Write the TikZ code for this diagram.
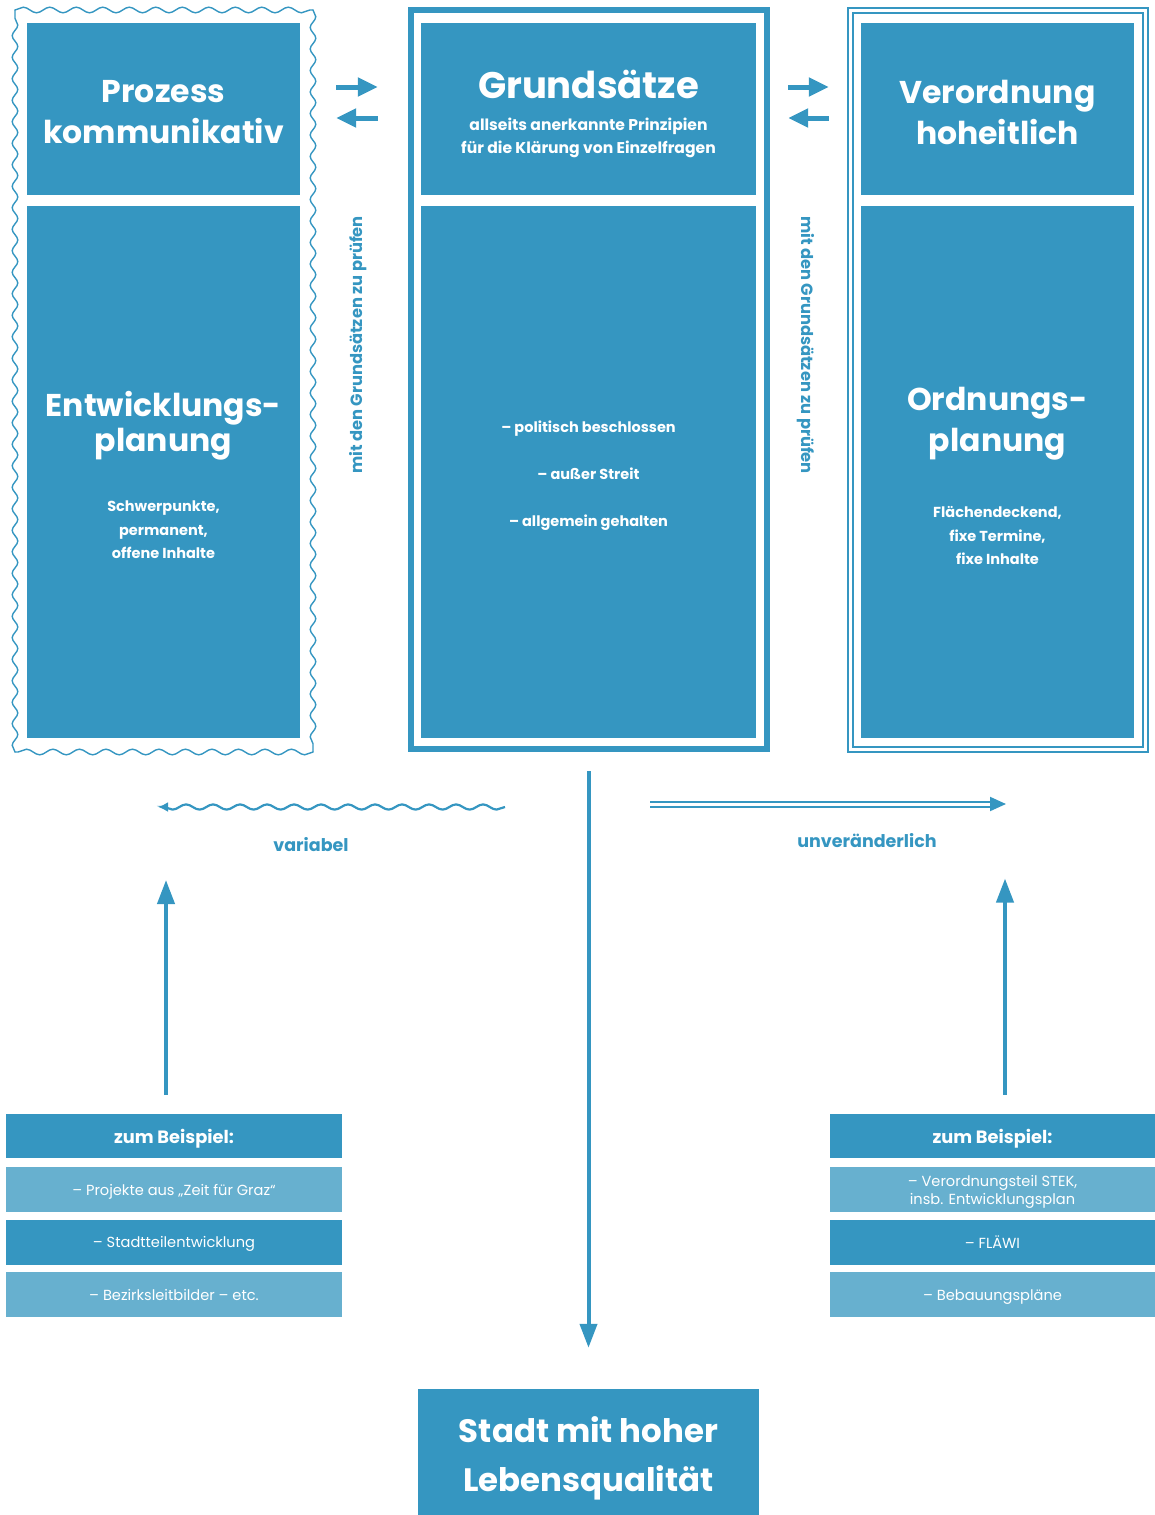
\documentclass[tikz,border=0pt]{standalone}
\usepackage{fontspec}
\setmainfont{Poppins}
\usetikzlibrary{
    arrows.meta,
    decorations.pathmorphing,
    positioning
}
\definecolor{planblue}{RGB}{53,150,193}
\definecolor{planlight}{RGB}{103,176,207}
\tikzset{
    colbox/.style={
        rectangle,
        fill=planblue,
        draw=none,
        inner sep=0pt,
        text=white,
        align=center
    },
    lightrow/.style={
        colbox,
        fill=planlight
    },
    wavyside/.style={
        draw=planblue,
        line width=1.4pt,
        line cap=round,
        decorate,
        decoration={snake, amplitude=2.8pt, segment length=26.5pt}
    },
    thickframe/.style={
        draw=planblue,
        line width=6pt
    },
    doubleframe/.style={
        draw=planblue,
        double=white,
        double distance=3pt,
        line width=2pt
    },
    bigtitle/.style={
        text=white,
        align=center,
        font=\fontsize{31.5}{41}\selectfont\bfseries
    },
    subtext/.style={
        text=white,
        align=center,
        font=\fontsize{14.5}{23.5}\selectfont\bfseries
    },
    sidenote/.style={
        text=planblue,
        font=\fontsize{16.3}{18}\selectfont\bfseries
    },
    tendlabel/.style={
        text=planblue,
        font=\fontsize{17.5}{21}\selectfont\bfseries
    },
    headtext/.style={
        font=\fontsize{17.8}{21}\selectfont\bfseries,
        text depth=0pt
    },
    rowtext/.style={
        font=\fontsize{14.6}{18.5}\selectfont,
        text depth=0pt
    },
    exchange/.style={
        draw=planblue,
        line width=5pt,
        -{Triangle[length=20pt, width=18pt]}
    },
    mainflow/.style={
        draw=planblue,
        line width=4pt,
        -{Triangle[length=24pt, width=17pt]}
    },
    wavyarrow/.style={
        draw=planblue,
        line width=2.2pt,
        -{Latex[length=10pt, width=10pt]},
        decorate,
        decoration={snake, amplitude=2.6pt, segment length=27pt, post length=6pt}
    },
    fixedarrow/.style={
        draw=planblue,
        double=white,
        double distance=3pt,
        line width=2pt,
        -{Triangle[length=16pt, width=14pt]}
    }
}

\begin{document}
\begin{tikzpicture}[x=1pt, y=-1pt]
    \useasboundingbox (0,0) rectangle (1155,1515);

    % Outer frames
    \node[outer sep=0pt, minimum width=298pt, minimum height=742pt] (lframe) at (164,381) {};
    \draw[wavyside] (lframe.north west) -- (lframe.north east);
    \draw[wavyside, decoration={segment length=21.5pt}] (lframe.north east) -- (lframe.south east);
    \draw[wavyside] (lframe.south east) -- (lframe.south west);
    \draw[wavyside, decoration={segment length=21.5pt}] (lframe.south west) -- (lframe.north west);
    \node[thickframe, minimum width=356pt, minimum height=739pt] (mframe) at (588.5,379.5) {};
    \node[doubleframe, minimum width=295pt, minimum height=739pt] (rframe) at (997.5,380) {};

    % Column boxes
    \node[colbox, minimum width=273pt, minimum height=172pt] (ltop) at (163.5,109) {};
    \node[colbox, minimum width=273pt, minimum height=532pt] (lbot) at (163.5,472) {};
    \node[colbox, minimum width=335pt, minimum height=172pt] (mtop) at (588.5,109) {};
    \node[colbox, minimum width=335pt, minimum height=532pt] (mbot) at (588.5,472) {};
    \node[colbox, minimum width=273pt, minimum height=172pt] (rtop) at (997.5,109) {};
    \node[colbox, minimum width=273pt, minimum height=532pt] (rbot) at (997.5,472) {};

    % Texts in the columns
    \node[bigtitle] (ltoptext) at (163.5,112) {Prozess\\kommunikativ};
    \node[bigtitle] (lbottitle) at (163.5,426) {Entwicklungs-\\[-6pt]planung};
    \node[subtext] (lbotnote) at (163.5,530) {Schwerpunkte,\\permanent,\\offene Inhalte};

    \node[bigtitle, font=\fontsize{37}{44}\selectfont\bfseries] (mtitle) at (588.5,84) {Grundsätze};
    \node[subtext, font=\fontsize{15.6}{23}\selectfont\bfseries] (mnote) at (588.5,138) {allseits anerkannte Prinzipien\\für die Klärung von Einzelfragen};
    \node[subtext, font=\fontsize{14.5}{47}\selectfont\bfseries] (mbotnote) at (588.5,476) {– politisch beschlossen\\– außer Streit\\– allgemein gehalten};

    \node[bigtitle] (rtoptext) at (997.5,112) {Verordnung\\hoheitlich};
    \node[bigtitle] (rbottitle) at (997.5,424) {Ordnungs-\\planung};
    \node[subtext] (rbotnote) at (997.5,535.5) {Flächendeckend,\\fixe Termine,\\fixe Inhalte};

    % Check notes
    \node[sidenote, rotate=90] (lcheck) at (358,345) {mit den Grundsätzen zu prüfen};
    \node[sidenote, rotate=-90] (rcheck) at (806,345) {mit den Grundsätzen zu prüfen};

    % Exchange arrows
    \draw[exchange, shorten <=36pt, shorten >=43pt] ([yshift=22pt]ltop.east) -- ([yshift=22pt]mtop.west);
    \draw[exchange, shorten <=43pt, shorten >=36pt] ([yshift=-9pt]mtop.west) -- ([yshift=-9pt]ltop.east);
    \draw[exchange, shorten <=32pt, shorten >=32pt] ([yshift=22pt]mtop.east) -- ([yshift=22pt]rtop.west);
    \draw[exchange, shorten <=32pt, shorten >=32pt] ([yshift=-9pt]rtop.west) -- ([yshift=-9pt]mtop.east);

    % Goal
    \node[colbox, minimum width=341pt, minimum height=126pt] (goal) at (588.5,1452) {};
    \node[text=white, align=center, font=\fontsize{32.4}{49}\selectfont\bfseries] (goaltext) at (588.5,1458) {Stadt mit hoher\\Lebensqualität};
    \draw[mainflow, shorten <=19pt, shorten >=41pt] (mframe.south) -- (goal.north);

    % Tendencies
    \coordinate (varstart) at (505,807);
    \coordinate (varend) at (158,807);
    \draw[wavyarrow] (varstart) -- (varend);
    \node[tendlabel] (varlabel) at (311,845) {variabel};

    \coordinate (fixstart) at (650,804);
    \coordinate (fixend) at (1006,804);
    \draw[fixedarrow] (fixstart) -- (fixend);
    \node[tendlabel] (fixlabel) at (867,841) {unveränderlich};

    % Examples
    \node[colbox, minimum width=336pt, minimum height=44pt, headtext] (lexhead) at (174,1136) {zum Beispiel:};
    \node[lightrow, minimum width=336pt, minimum height=45pt, rowtext, below=9pt of lexhead] (lex1) {– Projekte aus „Zeit für Graz“};
    \node[colbox, minimum width=336pt, minimum height=45pt, rowtext, below=7pt of lex1] (lex2) {– Stadtteilentwicklung};
    \node[lightrow, minimum width=336pt, minimum height=45pt, rowtext, below=7pt of lex2] (lex3) {– Bezirksleitbilder – etc.};

    \node[colbox, minimum width=325pt, minimum height=44pt, headtext] (rexhead) at (992.5,1136) {zum Beispiel:};
    \node[lightrow, minimum width=325pt, minimum height=45pt, rowtext, below=9pt of rexhead] (rex1) {– Verordnungsteil STEK,\\insb. Entwicklungsplan};
    \node[colbox, minimum width=325pt, minimum height=45pt, rowtext, below=7pt of rex1] (rex2) {– FLÄWI};
    \node[lightrow, minimum width=325pt, minimum height=45pt, rowtext, below=7pt of rex2] (rex3) {– Bebauungspläne};

    \draw[mainflow, shorten <=19pt, shorten >=128pt] ([xshift=-8pt]lexhead.north) -- ([xshift=2pt]lframe.south);
    \draw[mainflow, shorten <=19pt, shorten >=128pt] ([xshift=12.5pt]rexhead.north) -- ([xshift=7.5pt]rframe.south);

\end{tikzpicture}
\end{document}
